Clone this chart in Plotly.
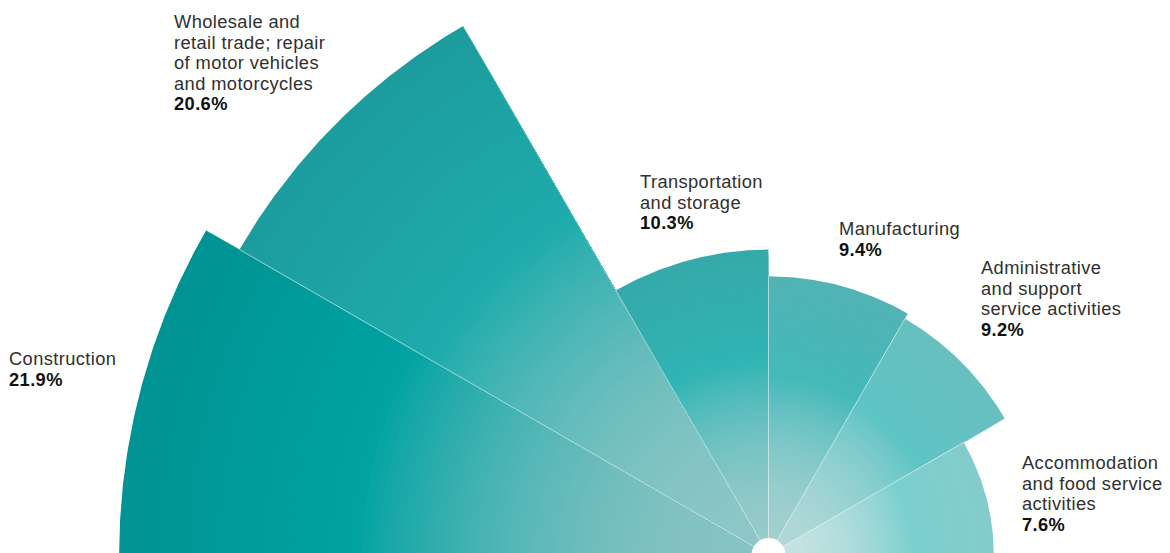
import numpy as np
import plotly.graph_objects as go

# ---------------- data ----------------
categories = [
    "Construction",
    "Wholesale and retail trade; repair of motor vehicles and motorcycles",
    "Transportation and storage",
    "Manufacturing",
    "Administrative and support service activities",
    "Accommodation and food service activities",
]
label_lines = [
    ["Construction"],
    ["Wholesale and", "retail trade; repair", "of motor vehicles", "and motorcycles"],
    ["Transportation", "and storage"],
    ["Manufacturing"],
    ["Administrative", "and support", "service activities"],
    ["Accommodation", "and food service", "activities"],
]
shares = [21.9, 20.6, 10.3, 9.4, 9.2, 7.6]

# ---------------- styles / layout ----------------
W, H = 1170, 553
K = 29.65            # px per percentage point of radius
CX, CY = 768.5, 555  # pixel position of the centre

palette = [  # (centre, bright, outer)
    ("#88c3c3", "#00a2a2", "#009393"),
    ("#8ec6c6", "#1eabab", "#1d9c9e"),
    ("#98caca", "#30b4b4", "#36a9aa"),
    ("#a4d0d0", "#44b9b9", "#52b3b4"),
    ("#b2d8d8", "#5fc4c4", "#68bfc0"),
    ("#c6e2e2", "#7ccfcf", "#84cccc"),
]
# label positions in pixels: (left x, baseline of first line)
label_pos = [(9, 363.5), (174, 27.0), (640, 186.3), (839, 233.7), (981, 273.0), (1022, 468.0)]
FONT = "Liberation Sans"
GLYPH_SIZE = 18.3
ASCENT = 0.905
LINE_H = 20.5
BASE_SIZE = LINE_H / 1.3   # plotly spaces <br> lines by 1.3 x font size
TRACKING = 0.4


def hex2rgb(h):
    h = h.lstrip("#")
    return np.array([int(h[i:i + 2], 16) for i in (0, 2, 4)], dtype=float)


def mix(a, b, t):
    c = a + (b - a) * t
    return "rgb(%d,%d,%d)" % tuple(np.clip(np.round(c), 0, 255))


def color_at(i, t):
    c0, c1, c2 = (hex2rgb(c) for c in palette[i])
    tb = 0.64
    if t <= tb:
        s = (t / tb) ** 2.0
        return mix(c0, c1, s)
    s = (t - tb) / (1 - tb)
    return mix(c1, c2, s)


n = len(categories)
step = 180.0 / n
fig = go.Figure()

NB = 80
for i, v in enumerate(shares):
    a0 = 180 - step * i
    a1 = a0 - step
    th = np.radians(np.linspace(a0, a1, 120))
    # bars drawn from the outer edge inward so each band overlays the previous one
    for j in range(NB, 0, -1):
        frac = j / NB
        r = v * frac
        xs = np.concatenate([[0], r * np.cos(th), [0]])
        ys = np.concatenate([[0], r * np.sin(th), [0]])
        fig.add_trace(go.Scatter(
            x=xs, y=ys, mode="lines", fill="toself",
            fillcolor=color_at(i, frac - 0.5 / NB if j < NB else 1.0),
            line=dict(width=0), hoverinfo="skip", showlegend=False,
            name=categories[i],
        ))

# thin light separators along the radial edges
for i, v in enumerate(shares):
    a0 = np.radians(180 - step * i)
    a1 = np.radians(180 - step * (i + 1))
    fig.add_trace(go.Scatter(
        x=[v * np.cos(a0), 0, v * np.cos(a1)],
        y=[v * np.sin(a0), 0, v * np.sin(a1)],
        mode="lines", line=dict(color="rgba(255,255,255,0.4)", width=0.8),
        hoverinfo="skip", showlegend=False,
    ))

# white centre dot
rd = 17 / K
fig.add_shape(type="circle", xref="x", yref="y", x0=-rd, y0=-rd, x1=rd, y1=rd,
              fillcolor="white", line=dict(width=0), layer="above")

annotations = []
for i, (lines, v) in enumerate(zip(label_lines, shares)):
    px, py = label_pos[i]
    sty = "font-size:%.1fpx;letter-spacing:%.1fpx" % (GLYPH_SIZE, TRACKING)
    parts = ['<span style="%s">%s</span>' % (sty, t) for t in lines]
    parts.append('<span style="%s;color:#111111"><b>%.1f%%</b></span>' % (sty, v))
    top = py - ASCENT * GLYPH_SIZE - 1
    annotations.append(dict(
        x=(px - 2) / W, y=1 - top / H, xref="paper", yref="paper",
        xanchor="left", yanchor="top", align="left", showarrow=False,
        text="<br>".join(parts),
        font=dict(family=FONT, size=BASE_SIZE, color="#303030"),
    ))

fig.update_layout(
    width=W, height=H, margin=dict(l=0, r=0, t=0, b=0),
    paper_bgcolor="white", plot_bgcolor="white",
    xaxis=dict(range=[-CX / K, (W - CX) / K], visible=False, fixedrange=True),
    yaxis=dict(range=[(CY - H) / K, CY / K], visible=False, fixedrange=True),
    annotations=annotations, showlegend=False,
)

fig.write_html("out.html")
